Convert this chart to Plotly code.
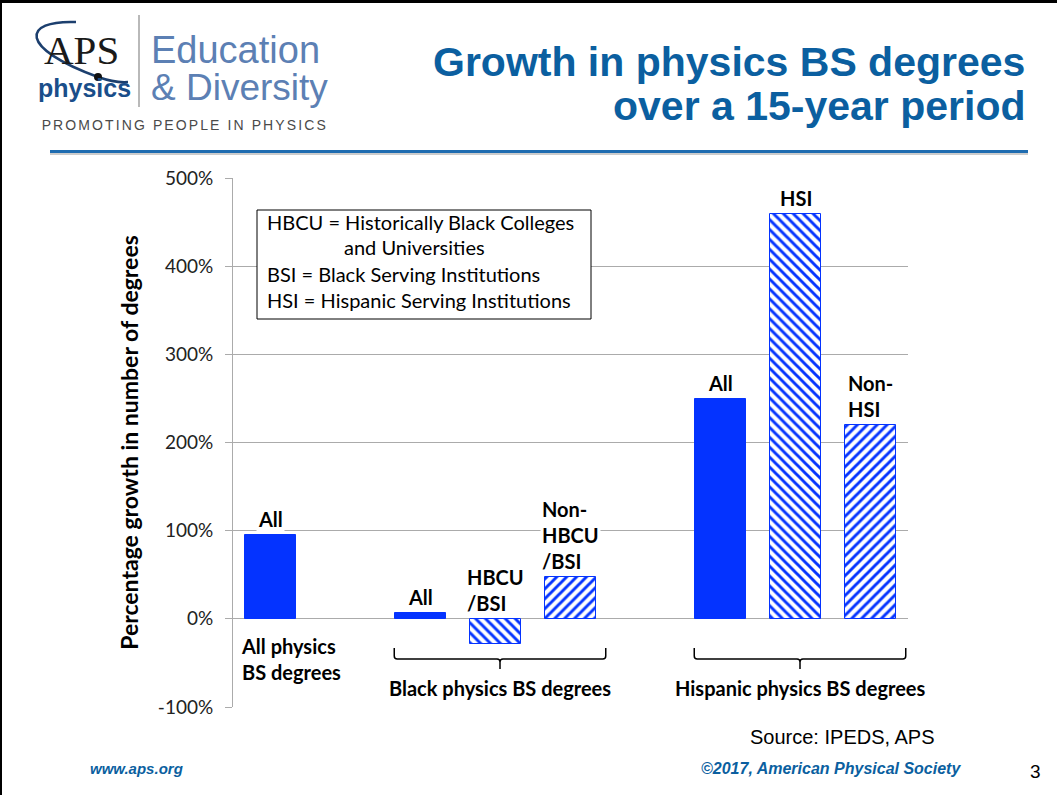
import plotly.graph_objects as go

# ---- data -------------------------------------------------------------
# slot = position on the category axis (slots 1 and 5 are the gaps between groups)
bar_slot = [0, 2, 3, 4, 6, 7, 8]
bar_value = [95, 7, -28, 47, 249, 459, 220]
bar_label = ["All", "All", "HBCU<br>/BSI", "Non-<br>HBCU<br>/BSI", "All", "HSI", "Non-<br>HSI"]
bar_hatch = ["", "", "\\", "/", "", "\\", "/"]

group_label = ["All physics<br>BS degrees", "Black physics BS degrees", "Hispanic physics BS degrees"]
group_slots = [[0], [2, 3, 4], [6, 7, 8]]

y_tickvals = [-100, 0, 100, 200, 300, 400, 500]
y_ticktext = ["-100%", "0%", "100%", "200%", "300%", "400%", "500%"]

notes = [
    "HBCU = Historically Black Colleges",
    "and Universities",
    "BSI = Black Serving Institutions",
    "HSI = Hispanic Serving Institutions",
]

BLUE = "#0433ff"
TITLE_BLUE = "#0b5fa0"
GRID = "#ababab"
LBL = dict(family="Lato", size=20, color="black")

# ---- pixel helpers (plot area is 233..908 x 178..707 on a 1057x795 page) ----
L, R, T, B = 233, 908, 178, 707


def px(x):
    return (x - L) / (R - L)


def py(y):
    return (B - y) / (B - T)


fig = go.Figure()
fig.add_trace(
    go.Bar(
        x=bar_slot,
        y=bar_value,
        width=0.67,
        marker=dict(
            color=BLUE,
            line=dict(color=BLUE, width=1),
            pattern=dict(
                shape=bar_hatch,
                fgcolor=BLUE,
                bgcolor="white",
                fillmode="replace",
                size=7,
                solidity=0.42,
            ),
        ),
        showlegend=False,
        hoverinfo="skip",
    )
)

ann = []
# labels over the bars
for s, v, t in zip(bar_slot, bar_value, bar_label):
    ann.append(dict(
        x=s, y=max(v, 0), xref="x", yref="y", text=f"<b>{t}</b>",
        showarrow=False, yanchor="bottom", yshift=2, bgcolor="white",
        font=LBL, align="left",
    ))

# group labels and braces
shapes = []
for lab, slots in zip(group_label, group_slots):
    if len(slots) == 1:
        ann.append(dict(
            x=slots[0] - 0.42, y=py(632), xref="x", yref="paper", text=f"<b>{lab}</b>",
            showarrow=False, xanchor="left", yanchor="top", align="left", font=LBL,
        ))
        continue
    x0, x1 = slots[0] - 0.35, slots[-1] + 0.47
    mid = (x0 + x1) / 2
    r = 0.04
    path = (
        f"M {x0},{py(648)} L {x0},{py(656)} Q {x0},{py(659)} {x0 + r},{py(659)} "
        f"L {mid - r},{py(659)} Q {mid},{py(659)} {mid},{py(662)} L {mid},{py(669)} "
        f"M {mid},{py(662)} Q {mid},{py(659)} {mid + r},{py(659)} "
        f"L {x1 - r},{py(659)} Q {x1},{py(659)} {x1},{py(656)} L {x1},{py(648)}"
    )
    shapes.append(dict(type="path", path=path, xref="x", yref="paper",
                       line=dict(color="black", width=1.5)))
    ann.append(dict(
        x=mid, y=py(688), xref="x", yref="paper", text=f"<b>{lab}</b>",
        showarrow=False, xanchor="center", yanchor="middle", font=LBL,
    ))

# abbreviation box
shapes.append(dict(type="rect", xref="paper", yref="paper",
                   x0=px(257), x1=px(591), y0=py(319), y1=py(210),
                   line=dict(color="black", width=1), fillcolor="white", layer="above"))
note_x = [265, 342, 265, 265]
note_y = [222, 247, 274, 300]
for t, nx, ny in zip(notes, note_x, note_y):
    ann.append(dict(
        x=px(nx), y=py(ny), xref="paper", yref="paper", text=t, showarrow=False,
        xanchor="left", yanchor="middle", font=dict(family="Lato", size=20, color="black"),
    ))

# header: title
for t, ty in [("Growth in physics BS degrees", 62), ("over a 15-year period", 106)]:
    ann.append(dict(
        x=px(1027), y=py(ty), xref="paper", yref="paper", text=f"<b>{t}</b>",
        showarrow=False, xanchor="right", yanchor="middle",
        font=dict(family="Liberation Sans", size=41, color=TITLE_BLUE),
    ))

# header: logo + footer
extra = [
    dict(x=px(81), y=py(50), text="APS", xanchor="center",
         font=dict(family="Liberation Serif", size=41, color="#1a1a1a")),
    dict(x=px(84), y=py(88), text="<b>physics</b>", xanchor="center",
         font=dict(family="Liberation Sans", size=25, color="#1a4e8a")),
    dict(x=px(149), y=py(50), text="Education", xanchor="left",
         font=dict(family="Liberation Sans", size=38, color="#5c80b4")),
    dict(x=px(149), y=py(88), text="&amp; Diversity", xanchor="left",
         font=dict(family="Liberation Sans", size=37, color="#5c80b4")),
    dict(x=px(68), y=py(125), text="PROMOTING PEOPLE IN PHYSICS", xanchor="left",
         font=dict(family="Liberation Sans", size=14, color="#4a4a4a")),
    dict(x=px(748), y=py(737), text="Source: IPEDS, APS", xanchor="left",
         font=dict(family="Liberation Sans", size=20, color="black")),
    dict(x=px(88), y=py(768), text="<b><i>www.aps.org</i></b>", xanchor="left",
         font=dict(family="Liberation Sans", size=15, color=TITLE_BLUE)),
    dict(x=px(963), y=py(768), text="<b><i>©2017, American Physical Society</i></b>",
         xanchor="right", font=dict(family="Liberation Sans", size=16, color=TITLE_BLUE)),
    dict(x=px(1035), y=py(771), text="3", xanchor="center",
         font=dict(family="Liberation Sans", size=19, color="black")),
]
for a in extra:
    a.update(xref="paper", yref="paper", showarrow=False, yanchor="middle")
ann += extra

orbit = (
    f"M {px(76)},{py(22)} C {px(22)},{py(20)} {px(18)},{py(48)} {px(98)},{py(77)} "
    f"Q {px(115)},{py(83)} {px(128)},{py(82)}"
)
shapes += [
    dict(type="path", path=orbit, xref="paper", yref="paper",
         line=dict(color="#1c3f6e", width=2.5)),
    dict(type="circle", xref="paper", yref="paper", x0=px(94), x1=px(102),
         y0=py(81), y1=py(73), fillcolor="#111", line=dict(width=0)),
    dict(type="line", xref="paper", yref="paper", x0=px(139), x1=px(139),
         y0=py(15), y1=py(107), line=dict(color="#8a8a8a", width=1.2)),
    # header rule
    dict(type="line", xref="paper", yref="paper", x0=px(50), x1=px(1028),
         y0=py(154), y1=py(154), line=dict(color="#cccccc", width=2)),
    dict(type="line", xref="paper", yref="paper", x0=px(50), x1=px(1028),
         y0=py(151.5), y1=py(151.5), line=dict(color="#1f6cb0", width=3)),
    # slide border
    dict(type="line", xref="paper", yref="paper", x0=px(0), x1=px(1057),
         y0=py(1.5), y1=py(1.5), line=dict(color="black", width=3)),
    dict(type="line", xref="paper", yref="paper", x0=px(1), x1=px(1),
         y0=py(0), y1=py(795), line=dict(color="black", width=2)),
]

fig.update_layout(
    width=1057,
    height=795,
    margin=dict(l=L, r=1057 - R, t=T, b=795 - B),
    paper_bgcolor="white",
    plot_bgcolor="white",
    font=dict(family="Lato", color="black"),
    annotations=ann,
    shapes=shapes,
    bargap=0,
    xaxis=dict(
        range=[-0.5, 8.5], showticklabels=False, showgrid=False,
        zeroline=False, showline=False, fixedrange=True,
    ),
    yaxis=dict(
        range=[-100, 500], tickvals=y_tickvals, ticktext=y_ticktext,
        showgrid=True, gridcolor=GRID, gridwidth=1,
        zeroline=True, zerolinecolor=GRID, zerolinewidth=1,
        showline=True, linecolor=GRID, linewidth=1,
        ticks="outside", ticklen=7, tickcolor=GRID,
        ticklabelstandoff=8,
        tickfont=dict(family="Lato", size=19, color="#222"),
        title=dict(
            text="<b>Percentage growth in number of degrees</b>",
            font=dict(family="Lato", size=23, color="black"),
            standoff=12,
        ),
    ),
)

# drop the default page margin and space out the logo tagline
js = """
document.body.style.margin = '0px';
document.querySelectorAll('text').forEach(function (t) {
  if (t.textContent === 'PROMOTING PEOPLE IN PHYSICS') { t.style.letterSpacing = '2.1px'; }
});
"""
fig.write_html("out.html", config={"displayModeBar": False}, post_script=js)
